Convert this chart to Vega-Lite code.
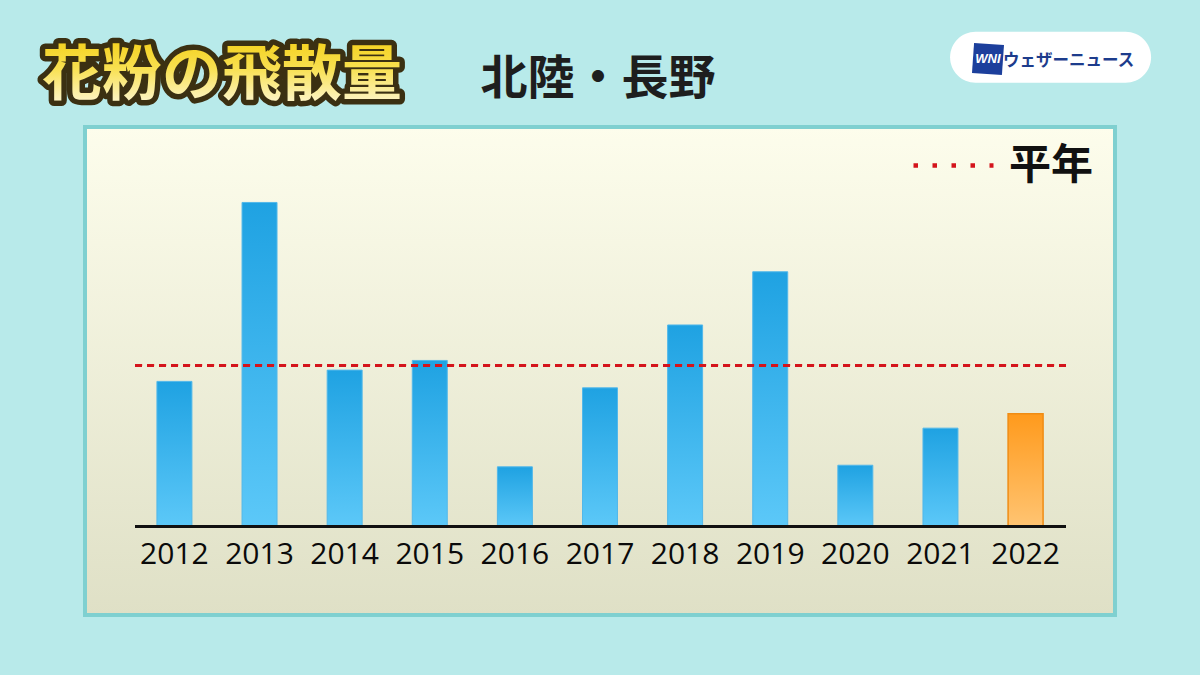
{
  "$schema": "https://vega.github.io/schema/vega-lite/v6.json",
  "width": 1030,
  "height": 488,
  "autosize": {"type": "none"},
  "padding": {"left": 85, "top": 127, "right": 85, "bottom": 60},
  "background": "#b8eaea",
  "config": {
    "view": {
      "fill": {"gradient": "linear", "x1": 0, "y1": 0, "x2": 0, "y2": 1, "stops": [{"offset": 0, "color": "#fdfdec"}, {"offset": 1, "color": "#dfe0c6"}]},
      "stroke": "#7fd0d0",
      "strokeWidth": 4
    },
    "font": "Noto Sans CJK JP"
  },
  "data": {
    "values": [
      {"year": "2012", "value": 90},
      {"year": "2013", "value": 201},
      {"year": "2014", "value": 97},
      {"year": "2015", "value": 103},
      {"year": "2016", "value": 37},
      {"year": "2017", "value": 86},
      {"year": "2018", "value": 125},
      {"year": "2019", "value": 158},
      {"year": "2020", "value": 38},
      {"year": "2021", "value": 61},
      {"year": "2022", "value": 70}
    ]
  },
  "layer": [
    {
      "transform": [{"filter": "datum.year !== '2022'"}],
      "mark": {
        "type": "bar",
        "fill": {"gradient": "linear", "x1": 0, "y1": 0, "x2": 0, "y2": 1, "stops": [{"offset": 0, "color": "#1fa2e2"}, {"offset": 1, "color": "#5cc8f8"}]},
        "stroke": "#52b8ea",
        "strokeWidth": 1
      },
      "encoding": {
        "x": {
          "field": "year",
          "type": "ordinal",
          "scale": {"domain": ["2012", "2013", "2014", "2015", "2016", "2017", "2018", "2019", "2020", "2021", "2022"], "paddingInner": 0.589, "paddingOuter": 0.845},
          "axis": {
            "title": null,
            "orient": "bottom",
            "offset": -88.5,
            "domain": false,
            "ticks": false,
            "grid": false,
            "labelAngle": 0,
            "labelFont": "Open Sans",
            "labelFontSize": 30,
            "labelColor": "#0a0a0a",
            "labelPadding": 13
          }
        },
        "y": {"field": "value", "type": "quantitative", "scale": {"domain": [-54.9, 247.8], "nice": false, "zero": false}, "axis": null},
        "y2": {"datum": 0}
      }
    },
    {
      "transform": [{"filter": "datum.year === '2022'"}],
      "mark": {
        "type": "bar",
        "fill": {"gradient": "linear", "x1": 0, "y1": 0, "x2": 0, "y2": 1, "stops": [{"offset": 0, "color": "#ff9a1c"}, {"offset": 1, "color": "#ffc472"}]},
        "stroke": "#f08c14",
        "strokeWidth": 1.5
      },
      "encoding": {
        "x": {"field": "year", "type": "ordinal"},
        "y": {"field": "value", "type": "quantitative", "axis": null},
        "y2": {"datum": 0}
      }
    },
    {
      "mark": {"type": "rule", "color": "#111111", "strokeWidth": 3, "xOffset": -39.4, "x2Offset": 40.4},
      "encoding": {
        "x": {"datum": "2012", "type": "ordinal"},
        "x2": {"datum": "2022"},
        "y": {"datum": 0, "type": "quantitative", "axis": null}
      }
    },
    {
      "mark": {"type": "rule", "strokeWidth": 2.5, "strokeDash": [7, 5], "xOffset": -39.4, "x2Offset": 40.4},
      "encoding": {
        "x": {"datum": "2012", "type": "ordinal"},
        "x2": {"datum": "2022"},
        "y": {"datum": 100, "type": "quantitative", "axis": null},
        "stroke": {
          "datum": "平年",
          "type": "nominal",
          "scale": {"range": ["#d4141c"]},
          "legend": {
            "title": null,
            "orient": "none",
            "legendX": 826,
            "legendY": -4,
            "padding": 0,
            "symbolType": "stroke",
            "symbolSize": 6400,
            "symbolDash": [4.5, 14.5],
            "symbolStrokeWidth": 4.5,
            "symbolStrokeColor": "#d4141c",
            "labelFont": "Noto Sans CJK JP",
            "labelFontSize": 42,
            "labelFontWeight": "bold",
            "labelColor": "#111111",
            "labelOffset": 13,
            "labelLimit": 200
          }
        }
      }
    },
    {
      "data": {"values": [{"label": "花粉の飛散量"}]},
      "mark": {"type": "text", "fontSize": 60, "fontWeight": "bold", "font": "Noto Sans CJK JP", "fill": "#3b3012", "stroke": "#3b3012", "strokeWidth": 11, "strokeJoin": "round", "baseline": "middle", "align": "center", "dx": 47.6},
      "encoding": {
        "x": {"datum": "2012", "type": "ordinal"},
        "y": {"datum": 279, "type": "quantitative", "axis": null},
        "text": {"field": "label"}
      }
    },
    {
      "data": {"values": [{"label": "花粉の飛散量"}]},
      "mark": {
        "type": "text", "fontSize": 60, "fontWeight": "bold", "font": "Noto Sans CJK JP", "baseline": "middle", "align": "center", "dx": 47.6,
        "fill": {"gradient": "linear", "x1": 0, "y1": 0, "x2": 0, "y2": 1, "stops": [{"offset": 0, "color": "#f2c800"}, {"offset": 0.5, "color": "#f8e050"}, {"offset": 1, "color": "#fffbe8"}]}
      },
      "encoding": {
        "x": {"datum": "2012", "type": "ordinal"},
        "y": {"datum": 279, "type": "quantitative", "axis": null},
        "text": {"field": "label"}
      }
    },
    {
      "data": {"values": [{"label": "北陸・長野"}]},
      "mark": {"type": "text", "fontSize": 47, "fontWeight": "bold", "font": "Noto Sans CJK JP", "color": "#1e1e1e", "baseline": "middle", "align": "center", "dx": -2},
      "encoding": {
        "x": {"datum": "2017", "type": "ordinal"},
        "y": {"datum": 277, "type": "quantitative", "axis": null},
        "text": {"field": "label"}
      }
    },
    {
      "data": {"values": [{"label": "ウェザーニュース"}]},
      "mark": {"type": "point", "shape": "M-0.7463,-0.2537L0.7463,-0.2537A0.2537,0.2537,0,0,1,0.7463,0.2537L-0.7463,0.2537A0.2537,0.2537,0,0,1,-0.7463,-0.2537Z", "size": 40401, "filled": true, "fill": "#ffffff", "opacity": 1, "strokeWidth": 0, "xOffset": 25},
      "encoding": {
        "x": {"datum": "2022", "type": "ordinal"},
        "y": {"datum": 291, "type": "quantitative", "axis": null}
      }
    },
    {
      "data": {"values": [{"label": "WNI"}]},
      "mark": {"type": "point", "shape": "square", "size": 900, "filled": true, "fill": "#1c3f9c", "opacity": 1, "strokeWidth": 0, "angle": 4, "xOffset": -37.6},
      "encoding": {
        "x": {"datum": "2022", "type": "ordinal"},
        "y": {"datum": 290, "type": "quantitative", "axis": null}
      }
    },
    {
      "data": {"values": [{"label": "WNI"}]},
      "mark": {"type": "text", "fontSize": 13, "fontWeight": "bold", "fontStyle": "italic", "font": "Liberation Sans", "color": "#ffffff", "baseline": "middle", "align": "center", "dx": -37.6},
      "encoding": {
        "x": {"datum": "2022", "type": "ordinal"},
        "y": {"datum": 290, "type": "quantitative", "axis": null},
        "text": {"field": "label"}
      }
    },
    {
      "data": {"values": [{"label": "ウェザーニュース"}]},
      "mark": {"type": "text", "fontSize": 16.5, "fontWeight": "bold", "font": "Noto Sans CJK JP", "color": "#1d3c8c", "baseline": "middle", "align": "center", "dx": 43},
      "encoding": {
        "x": {"datum": "2022", "type": "ordinal"},
        "y": {"datum": 288.5, "type": "quantitative", "axis": null},
        "text": {"field": "label"}
      }
    }
  ]
}
